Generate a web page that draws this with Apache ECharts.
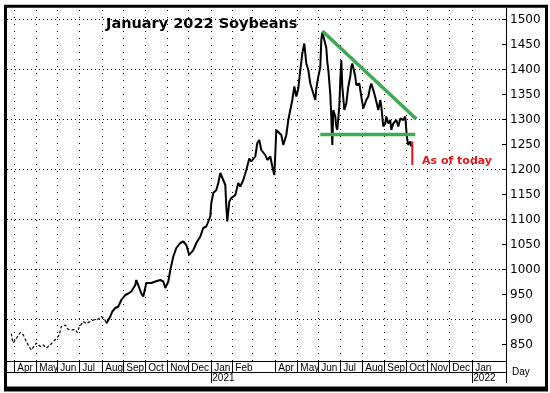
<!DOCTYPE html>
<html><head><meta charset="utf-8">
<script src="https://cdn.jsdelivr.net/npm/echarts@6/dist/echarts.min.js"></script>
<style>html,body{margin:0;padding:0;background:#fff}#c{width:550px;height:393px}</style>
</head><body><div id="c"></div>
<script>
// x values are session indices: weekdays counted from Mon 2 Mar 2020 (= 0)
const monthNames = ['Jan','Feb','Mar','Apr','May','Jun','Jul','Aug','Sep','Oct','Nov','Dec'];
const firstMonth = {y: 2020, m: 3};   // April 2020
const lastMonth = {y: 2022, m: 0};    // January 2022
const unlabeledMonths = ['2021-2'];   // March 2021 carries no label
const axisDayMin = 14.7, axisDayMax = 513.7;
const priceMin = 817, priceMax = 1523;
const yTickValues = [850,900,950,1000,1050,1100,1150,1200,1250,1300,1350,1400,1450,1500];
const yGridValues = [900,1000,1100,1200,1300,1400,1500];

// Early, thinly traded stretch (Mar-Aug 2020)
const earlyDays   = [19,20,21,23,25,28,31,34,37,39,41,44,48,51,54,58,61,64,67,69,73,76,79,83,85,87,91,94,98,101,106,109,112,114];
const earlyPrices = [872,860,853,853,865,874,869,856,845,839,836,853,846,849,843,849,856,862,869,886,889,880,879,880,874,885,896,892,896,899,901,906,902,892];

// Main stretch (Aug 2020 - Oct 2021)
const mainDays = [114,118,120,123,126,129,133,136,139,143,144,147,149,151,154,159,163,168,171,173,176,178,181,184,188,191,194,197,201,204,208,211,214,218,219,221,224,226,228,230,233,234,235,237,239,243,246,248,251,254,257,259,263,265,267,269,273,275,278,280,282,283,284,286,289,291,294,296,298,300,302,304,306,308,310,312,314,316,318,321,323,324,326,328,329,330,332,334,335,336,338,339,340,341,343,344,345,347,348,349,350,352,354,356,358,359,360,363,364,367,369,371,374,376,378,379,382,384,386,388,389,391,393,394,396,398,399,401,404,406,408,411,413,414,415,416,418,419];
const mainPrices = [892,906,916,923,926,939,949,952,956,969,979,963,952,946,973,973,976,979,976,963,976,999,1026,1043,1053,1056,1049,1029,1039,1053,1066,1083,1086,1106,1133,1153,1159,1173,1193,1196,1169,1126,1096,1136,1143,1149,1173,1166,1179,1199,1222,1216,1226,1253,1259,1239,1229,1219,1226,1206,1189,1232,1279,1276,1269,1249,1269,1299,1319,1339,1366,1346,1362,1399,1432,1452,1412,1399,1372,1352,1339,1362,1386,1405,1459,1474,1459,1443,1415,1400,1350,1305,1249,1319,1306,1286,1279,1326,1379,1419,1366,1319,1332,1366,1386,1405,1412,1386,1369,1372,1346,1322,1339,1346,1366,1372,1352,1336,1319,1339,1326,1286,1292,1306,1292,1299,1279,1292,1299,1286,1302,1299,1306,1279,1259,1249,1256,1246];

// "As of today" bar
const todayDay = 420;
const todayHigh = 1256, todayLow = 1209;

// Trend lines
const resistanceDays = [330, 424], resistancePrices = [1477, 1301];
const supportDays = [328, 423], supportPrices = [1270, 1270];

function sessionIndex(y, m, d) {
  const start = Date.UTC(2020, 2, 2), end = Date.UTC(y, m, d);
  let n = 0;
  for (let t = start; t < end; t += 86400000) {
    const wd = new Date(t).getUTCDay();
    if (wd !== 0 && wd !== 6) n++;
  }
  return n;
}
const months = [];
for (let y = firstMonth.y, m = firstMonth.m; y < lastMonth.y || (y === lastMonth.y && m <= lastMonth.m); ) {
  months.push({y, m, v: sessionIndex(y, m, 1), key: y + '-' + m});
  m++; if (m > 11) { m = 0; y++; }
}
const labelled = months.filter(o => unlabeledMonths.indexOf(o.key) < 0);
const monthLabelMap = {}; labelled.forEach(o => monthLabelMap[o.v] = monthNames[o.m]);
const janMonths = months.filter(o => o.m === 0 && o.y > 2020);
const yearLabelMap = {}; janMonths.forEach(o => yearLabelMap[o.v] = String(o.y));

const zip = (a, b) => a.map((v, i) => [v, b[i]]);
const smallFont = 'Liberation Sans, Arial, sans-serif';

const chart = echarts.init(document.getElementById('c'), null, {renderer: 'canvas'});
chart.setOption({
  animation: false,
  backgroundColor: '#fff',
  title: [
    {text: 'January 2022 Soybeans', left: 106, top: 17, padding: 0,
     textStyle: {fontFamily: 'DejaVu Sans', fontWeight: 'bold', fontSize: 14.5, color: '#000'}},
    {text: 'As of today', left: 422, top: 156, padding: 0,
     textStyle: {fontFamily: 'DejaVu Sans', fontWeight: 'bold', fontSize: 11, color: '#e8141c'}}
  ],
  grid: {left: 7, right: 44, top: 8, bottom: 32, containLabel: false},
  xAxis: [
    {type: 'value', min: axisDayMin, max: axisDayMax, position: 'bottom',
     axisLine: {show: true, onZero: false, lineStyle: {color: '#000', width: 1}},
     axisTick: {show: true, inside: false, length: 11, customValues: labelled.map(o => o.v).concat([axisDayMax]), lineStyle: {color: '#000'}},
     axisLabel: {show: true, customValues: labelled.map(o => o.v), formatter: v => monthLabelMap[v] || '', align: 'left', margin: 2, padding: [0,0,0,3],
                 fontFamily: smallFont, fontSize: 10, color: '#000'},
     splitLine: {show: false}},
    {type: 'value', min: axisDayMin, max: axisDayMax, position: 'bottom', offset: 11,
     name: 'Day', nameLocation: 'end', nameGap: 6, nameTextStyle: {fontFamily: smallFont, fontSize: 10, color: '#000', verticalAlign: 'middle'},
     axisLine: {show: true, onZero: false, lineStyle: {color: '#000', width: 1}},
     axisTick: {show: true, inside: false, length: 11, customValues: janMonths.map(o => o.v).concat([axisDayMax]), lineStyle: {color: '#000'}},
     axisLabel: {show: true, customValues: janMonths.map(o => o.v), formatter: v => yearLabelMap[v] || '', align: 'left', margin: 1, padding: [0,0,0,1],
                 fontFamily: smallFont, fontSize: 10, color: '#000'},
     splitLine: {show: false}}
  ],
  yAxis: [
    {type: 'value', position: 'right', min: priceMin, max: priceMax,
     axisLine: {show: true, onZero: false, lineStyle: {color: '#000', width: 1}},
     axisTick: {show: true, inside: true, length: 4, customValues: yTickValues, lineStyle: {color: '#000'}},
     axisLabel: {show: true, customValues: yTickValues, formatter: v => String(v), margin: 4, fontFamily: 'DejaVu Sans', fontSize: 12, color: '#000'},
     splitLine: {show: false}}
  ],
  series: [
    {type: 'line', name: 'grid', data: [], silent: true, z: 1,
     markLine: {silent: true, symbol: 'none', label: {show: false}, animation: false,
       data: yGridValues.map(v => ({yAxis: v, lineStyle: {color: '#000', width: 1, type: [1, 3]}}))
         .concat(months.map(o => ({xAxis: o.v, lineStyle: {color: '#000', width: 1, type: [1, 6]}})))}},
    {type: 'line', name: 'early', data: zip(earlyDays, earlyPrices), symbol: 'none', z: 3,
     lineStyle: {color: '#000', width: 1.2, type: [3, 2]}},
    {type: 'line', name: 'price', data: zip(mainDays, mainPrices), symbol: 'none', z: 3,
     lineStyle: {color: '#000', width: 2}},
    {type: 'line', name: 'today', data: [[todayDay, todayHigh], [todayDay, todayLow]], symbol: 'none', z: 4,
     lineStyle: {color: '#e8141c', width: 2}},
    {type: 'line', name: 'resistance', data: zip(resistanceDays, resistancePrices), symbol: 'none', z: 5,
     lineStyle: {color: '#3caa50', width: 3.5}},
    {type: 'line', name: 'support', data: zip(supportDays, supportPrices), symbol: 'none', z: 5,
     lineStyle: {color: '#3caa50', width: 3.5}}
  ],
  graphic: [
    {type: 'rect', z: 100, shape: {x: 5.5, y: 6.3, width: 541, height: 381.7}, style: {fill: 'none', stroke: '#000', lineWidth: 3}},
    {type: 'rect', z: 100, shape: {x: 4, y: 388, width: 544, height: 3.5}, style: {fill: '#000'}}
  ]
});
</script></body></html>
